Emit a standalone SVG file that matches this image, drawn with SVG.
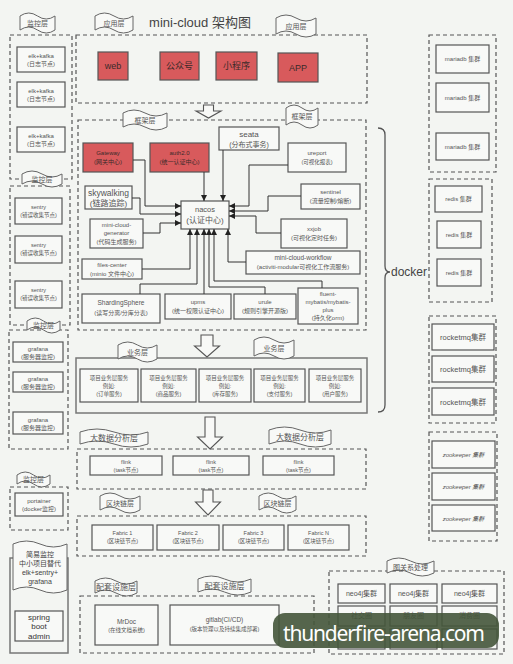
<svg xmlns="http://www.w3.org/2000/svg" width="513" height="664" viewBox="0 0 513 664">
<style>
.bg{fill:#f3f5f2}
.dash{fill:none;stroke:#555;stroke-width:1.2;stroke-dasharray:4 3}
.solid{fill:none;stroke:#777;stroke-width:1.5}
.box{fill:#f8f9f7;stroke:#555;stroke-width:1.2}
.red{fill:#d85a5c;stroke:#555;stroke-width:1.2}
.flag{fill:#f8f9f7;stroke:#666;stroke-width:1}
.bar{fill:#f8f9f7;stroke:#555;stroke-width:1.1}
text{font-family:"Liberation Sans","Noto Sans CJK SC",sans-serif;fill:#555;text-anchor:middle}
.s5{font-size:5.5px}.s6{font-size:6px}.s7{font-size:7px}.s8{font-size:8px}.s9{font-size:9px}
.rt{fill:#3a2a2a}
.conn{fill:none;stroke:#333;stroke-width:1;marker-end:url(#ah)}
</style>
<defs>
<marker id="ah" markerUnits="userSpaceOnUse" markerWidth="6" markerHeight="6" refX="6" refY="3" orient="auto"><path d="M0,0 L6,3 L0,6 z" fill="#222"/></marker>
</defs>
<rect class="bg" x="0" y="0" width="513" height="664"/>
<text x="200" y="27" style="font-size:13px;fill:#444">mini-cloud 架构图</text>

<!-- layer containers -->
<g id="containers">
<rect class="dash" x="10" y="35" width="62" height="144"/>
<rect class="dash" x="10" y="186" width="60" height="139"/>
<rect class="dash" x="9" y="330" width="59" height="119"/>
<rect class="dash" x="10" y="487" width="58" height="43"/>
<rect class="solid" x="10" y="558" width="58" height="95"/>
<rect class="dash" x="76" y="35" width="291" height="68"/>
<rect class="dash" x="78" y="120" width="288" height="210"/>
<rect class="solid" x="76" y="358" width="291" height="55"/>
<rect class="dash" x="77" y="449" width="289" height="40"/>
<rect class="dash" x="77" y="516" width="289" height="40"/>
<rect class="dash" x="80" y="596" width="234" height="57"/>
<rect class="dash" x="329" y="571" width="175" height="83"/>
<rect class="dash" x="429" y="35" width="67" height="137"/>
<rect class="dash" x="429" y="179" width="63" height="123"/>
<rect class="dash" x="429" y="316" width="67" height="107"/>
<rect class="dash" x="429" y="432" width="68" height="109"/>
<path d="M378,128 Q385,128 385,135 L385,266 Q385,272 390,272 Q385,272 385,278 L385,405 Q385,412 378,412" fill="none" stroke="#555" stroke-width="1.3"/>
<text x="409" y="276" style="font-size:12px;fill:#444">docker</text>
</g>

<!-- block arrows -->
<g id="flow-arrows" fill="#f8f9f7" stroke="#555" stroke-width="1.1">
<path d="M203.5,105 H213.5 V111 H221 L208.5,118 L196,111 H203.5 Z"/>
<path d="M201,335 H213 V346 H219.5 L207,357 L194.5,346 H201 Z"/>
<path d="M205,417 H215 V437 H222.5 L210,449 L197.5,437 H205 Z"/>
<path d="M203,490 H213 V502 H220.5 L208,515 L195.5,502 H203 Z"/>
</g>

<!-- monitoring column -->
<g id="elk1"><rect class="box" x="17" y="47" width="48" height="25"/><text class="s6" x="41" y="58">elk+kafka</text><text class="s6" x="41" y="66">(日志节点)</text></g>
<g id="elk2"><rect class="box" x="17" y="82" width="48" height="25"/><text class="s6" x="41" y="93">elk+kafka</text><text class="s6" x="41" y="101">(日志节点)</text></g>
<g id="elk3"><rect class="box" x="17" y="127" width="48" height="25"/><text class="s6" x="41" y="138">elk+kafka</text><text class="s6" x="41" y="146">(日志节点)</text></g>
<g id="sentry1"><rect class="box" x="15" y="198" width="47" height="26"/><text class="s5" x="38.5" y="209">sentry</text><text class="s5" x="38.5" y="217">(错误收集节点)</text></g>
<g id="sentry2"><rect class="box" x="15" y="236" width="47" height="27"/><text class="s5" x="38.5" y="247">sentry</text><text class="s5" x="38.5" y="255">(错误收集节点)</text></g>
<g id="sentry3"><rect class="box" x="15" y="281" width="47" height="27"/><text class="s5" x="38.5" y="292">sentry</text><text class="s5" x="38.5" y="300">(错误收集节点)</text></g>
<g id="grafana1"><rect class="box" x="13" y="342" width="50" height="20"/><text class="s6" x="38" y="351">grafana</text><text class="s6" x="38" y="358.5">(服务器监控)</text></g>
<g id="grafana2"><rect class="box" x="13" y="372" width="50" height="20"/><text class="s6" x="38" y="381">grafana</text><text class="s6" x="38" y="388.5">(服务器监控)</text></g>
<g id="grafana3"><rect class="box" x="13" y="412" width="50" height="22"/><text class="s6" x="38" y="422">grafana</text><text class="s6" x="38" y="430">(服务器监控)</text></g>
<g id="portainer"><rect class="box" x="15" y="493" width="48" height="23"/><text class="s6" x="39" y="503">portainer</text><text class="s6" x="39" y="511">(docker监控)</text></g>
<g id="sba"><rect class="box" x="15" y="611" width="48" height="30"/><text class="s8" x="39" y="620" style="fill:#333">spring</text><text class="s8" x="39" y="629" style="fill:#333">boot</text><text class="s8" x="39" y="638.5" style="fill:#333">admin</text></g>

<!-- application layer -->
<g id="web"><rect class="red" x="98" y="52" width="30" height="28"/><text class="s9 rt" x="113" y="69">web</text></g>
<g id="gzh"><rect class="red" x="160" y="52" width="39" height="28"/><text class="s9 rt" x="179.5" y="69">公众号</text></g>
<g id="xcx"><rect class="red" x="216" y="52" width="41" height="28"/><text class="s9 rt" x="236.5" y="69">小程序</text></g>
<g id="app"><rect class="red" x="278" y="53" width="40" height="29"/><text class="s9 rt" x="298" y="71">APP</text></g>

<!-- framework layer -->
<g id="gateway"><rect class="red" x="83" y="143" width="50" height="29"/><text class="s6 rt" x="108" y="155">Gateway</text><text class="s6 rt" x="108" y="164">(网关中心)</text></g>
<g id="auth"><rect class="red" x="150" y="143" width="59" height="29"/><text class="s6 rt" x="179.5" y="155">auth2.0</text><text class="s6 rt" x="179.5" y="164">(统一认证中心)</text></g>
<g id="seata"><rect class="box" x="219" y="127" width="60" height="23"/><text class="s8" x="249" y="137">seata</text><text class="s7" x="249" y="146.5">(分布式事务)</text></g>
<g id="ureport"><rect class="box" x="288" y="143" width="58" height="29"/><text class="s6" x="317" y="155">ureport</text><text class="s5" x="317" y="164">(可视化报表)</text></g>
<g id="skywalking"><rect class="box" x="85" y="186" width="47" height="23"/><text x="108.5" y="196" style="font-size:8.5px">skywalking</text><text class="s8" x="108.5" y="205.5">(链路追踪)</text></g>
<g id="generator"><rect class="box" x="90" y="219" width="53" height="29"/><text class="s6" x="116.5" y="227">mini-cloud-</text><text class="s6" x="116.5" y="235">generator</text><text class="s6" x="116.5" y="243.5">(代码生成服务)</text></g>
<g id="files"><rect class="box" x="82" y="259" width="60" height="20"/><text class="s6" x="112" y="267">files-center</text><text class="s6" x="112" y="275.5">(minio 文件中心)</text></g>
<g id="sharding"><rect class="box" x="82" y="294" width="78" height="29"/><text x="121" y="305" style="font-size:6.5px">ShardingSphere</text><text class="s6" x="121" y="315">(读写分离/分库分表)</text></g>
<g id="upms"><rect class="box" x="165" y="294" width="66" height="25"/><text class="s6" x="198" y="304">upms</text><text class="s6" x="198" y="313">(统一权限认证中心)</text></g>
<g id="urule"><rect class="box" x="234" y="294" width="62" height="25"/><text class="s6" x="265" y="304">urule</text><text class="s6" x="265" y="313">(规则引擎开源版)</text></g>
<g id="fluent"><rect class="box" x="298" y="288" width="60" height="36"/><text class="s6" x="328" y="296">fluent-</text><text class="s6" x="328" y="304">mybatis/mybatis-</text><text class="s6" x="328" y="312">plus</text><text class="s6" x="328" y="320">(持久化orm)</text></g>
<g id="nacos"><rect class="box" x="181" y="201" width="48" height="28"/><text x="205" y="212" style="font-size:7.5px">nacos</text><text class="s8" x="205" y="223">(认证中心)</text></g>
<g id="sentinel"><rect class="box" x="301" y="184" width="59" height="25"/><text class="s6" x="330.5" y="194">sentinel</text><text class="s6" x="330.5" y="203">(流量控制/熔断)</text></g>
<g id="xxjob"><rect class="box" x="281" y="219" width="66" height="29"/><text class="s6" x="314" y="231">xxjob</text><text class="s6" x="314" y="240">(可视化定时任务)</text></g>
<g id="workflow"><rect class="box" x="246" y="251" width="114" height="23"/><text x="303" y="260" style="font-size:6.5px">mini-cloud-workflow</text><text class="s6" x="303" y="269">(activiti-modular可视化工作流服务)</text></g>

<g id="connectors">
<path class="conn" d="M133,160 H145 V206 H181"/>
<path class="conn" d="M132,198 H140 V214 H181"/>
<path class="conn" d="M143,233 H160 V223 H181"/>
<path class="conn" d="M204,172 V201"/>
<path class="conn" d="M223,150 V201"/>
<path class="conn" d="M288,165 H249 V206 H229"/>
<path class="conn" d="M301,196 H268 V211 H229"/>
<path class="conn" d="M281,233 H256 V216 H229"/>
<path class="conn" d="M142,269 H190 V229"/>
<path class="conn" d="M140,294 V284 H197 V229"/>
<path class="conn" d="M204,294 V229"/>
<path class="conn" d="M265,294 V287 H209 V229"/>
<path class="conn" d="M322,288 V281 H214 V229"/>
<path class="conn" d="M246,262 H228 V229"/>
</g>

<!-- business layer -->
<g id="biz1"><rect class="box" x="80" y="369" width="58" height="33"/><text class="s5" x="109" y="380">项目业务层服务</text><text class="s5" x="109" y="388">例如:</text><text class="s5" x="109" y="396">(订单服务)</text></g>
<g id="biz2"><rect class="box" x="141" y="369" width="55" height="33"/><text class="s5" x="168.5" y="380">项目业务层服务</text><text class="s5" x="168.5" y="388">例如:</text><text class="s5" x="168.5" y="396">(商品服务)</text></g>
<g id="biz3"><rect class="box" x="199" y="369" width="52" height="33"/><text class="s5" x="225" y="380">项目业务层服务</text><text class="s5" x="225" y="388">例如:</text><text class="s5" x="225" y="396">(库存服务)</text></g>
<g id="biz4"><rect class="box" x="254" y="369" width="51" height="33"/><text class="s5" x="279.5" y="380">项目业务层服务</text><text class="s5" x="279.5" y="388">例如:</text><text class="s5" x="279.5" y="396">(支付服务)</text></g>
<g id="biz5"><rect class="box" x="309" y="369" width="52" height="33"/><text class="s5" x="335" y="380">项目业务层服务</text><text class="s5" x="335" y="388">例如:</text><text class="s5" x="335" y="396">(用户服务)</text></g>

<!-- big data -->
<g id="flink1"><rect class="box" x="90" y="456" width="72" height="19"/><text class="s5" x="126" y="464">flink</text><text class="s5" x="126" y="471.5">(task节点)</text></g>
<g id="flink2"><rect class="box" x="173" y="456" width="76" height="19"/><text class="s5" x="211" y="464">flink</text><text class="s5" x="211" y="471.5">(task节点)</text></g>
<g id="flink3"><rect class="box" x="263" y="456" width="71" height="19"/><text class="s5" x="298.5" y="464">flink</text><text class="s5" x="298.5" y="471.5">(task节点)</text></g>

<!-- blockchain -->
<g id="fabric1"><rect class="box" x="92" y="525" width="61" height="25"/><text class="s5" x="122.5" y="535">Fabric 1</text><text class="s5" x="122.5" y="543">(区块链节点)</text></g>
<g id="fabric2"><rect class="box" x="157" y="525" width="62" height="25"/><text class="s5" x="188" y="535">Fabric 2</text><text class="s5" x="188" y="543">(区块链节点)</text></g>
<g id="fabric3"><rect class="box" x="223" y="525" width="61" height="25"/><text class="s5" x="253.5" y="535">Fabric 3</text><text class="s5" x="253.5" y="543">(区块链节点)</text></g>
<g id="fabricN"><rect class="box" x="288" y="525" width="61" height="25"/><text class="s5" x="318.5" y="535">Fabric N</text><text class="s5" x="318.5" y="543">(区块链节点)</text></g>

<!-- facilities -->
<g id="mrdoc"><rect class="box" x="95" y="605" width="63" height="40"/><text x="126.5" y="624" style="font-size:6.5px">MrDoc</text><text class="s5" x="126.5" y="632">(在线文档系统)</text></g>
<g id="gitlab"><rect class="box" x="170" y="605" width="109" height="40"/><text x="224.5" y="622" style="font-size:6.5px">gitlab(CI/CD)</text><text class="s5" x="224.5" y="631">(版本管理以及持续集成部署)</text></g>

<!-- graph -->
<g id="neo1"><rect class="box" x="338" y="584" width="47" height="19"/><text class="s7" x="361.5" y="596">neo4j集群</text></g>
<g id="neo2"><rect class="box" x="390" y="584" width="47" height="19"/><text class="s7" x="413.5" y="596">neo4j集群</text></g>
<g id="neo3"><rect class="box" x="442" y="584" width="55" height="19"/><text class="s7" x="469.5" y="596">neo4j集群</text></g>
<g id="g21"><rect class="box" x="338" y="606" width="47" height="20"/><text class="s7" x="361.5" y="618">社交圈</text></g>
<g id="g22"><rect class="box" x="390" y="606" width="47" height="20"/><text class="s7" x="413.5" y="618">朋友圈</text></g>
<g id="g23"><rect class="box" x="442" y="606" width="55" height="20"/><text class="s7" x="469.5" y="618">消费圈</text></g>
<g id="g31"><rect class="box" x="338" y="629" width="47" height="20"/></g>
<g id="g32"><rect class="box" x="390" y="629" width="47" height="20"/></g>
<g id="g33"><rect class="box" x="442" y="629" width="55" height="20"/></g>

<!-- right column -->
<g id="mariadb1"><rect class="box" x="436" y="45" width="53" height="28"/><text class="s6" x="462.5" y="61">mariadb 集群</text></g>
<g id="mariadb2"><rect class="box" x="436" y="83" width="53" height="29"/><text class="s6" x="462.5" y="99.5">mariadb 集群</text></g>
<g id="mariadb3"><rect class="box" x="436" y="133" width="53" height="27"/><text class="s6" x="462.5" y="148.5">mariadb 集群</text></g>
<g id="redis1"><rect class="box" x="435" y="186" width="47" height="26"/><text class="s6" x="458.5" y="201">redis 集群</text></g>
<g id="redis2"><rect class="box" x="437" y="221" width="44" height="27"/><text class="s6" x="459" y="236.5">redis 集群</text></g>
<g id="redis3"><rect class="box" x="437" y="259" width="44" height="27"/><text class="s6" x="459" y="274.5">redis 集群</text></g>
<g id="mq1"><rect class="box" x="432" y="324" width="62" height="26"/><text x="463" y="340" style="font-size:7.5px">rocketmq集群</text></g>
<g id="mq2"><rect class="box" x="432" y="356" width="62" height="26"/><text x="463" y="372" style="font-size:7.5px">rocketmq集群</text></g>
<g id="mq3"><rect class="box" x="432" y="388" width="62" height="27"/><text x="463" y="404.5" style="font-size:7.5px">rocketmq集群</text></g>
<g id="zk1"><rect class="box" x="432" y="441" width="63" height="27"/><text class="s6" x="463.5" y="457" font-style="italic">zookeeper 集群</text></g>
<g id="zk2"><rect class="box" x="432" y="473" width="63" height="27"/><text class="s6" x="463.5" y="489" font-style="italic">zookeeper 集群</text></g>
<g id="zk3"><rect class="box" x="432" y="505" width="63" height="26"/><text class="s6" x="463.5" y="520.5" font-style="italic">zookeeper 集群</text></g>

<!-- banners -->
<g id="banners">
<path class="flag" d="M20,16 Q28.75,10 37.5,16 T55,16 L55,30 Q46.25,36 37.5,30 T20,30 Z"/><text class="s7" x="37.5" y="26">监控层</text>
<path class="flag" d="M22,174 Q32,168 42,174 T62,174 L62,184 Q52,190 42,184 T22,184 Z"/><text class="s7" x="42" y="182">监控层</text>
<path class="flag" d="M27,321 Q35.25,315 43.5,321 T60,321 L60,330 Q51.75,336 43.5,330 T27,330 Z"/><text class="s7" x="43.5" y="328">监控层</text>
<path class="flag" d="M17,475 Q25.25,469 33.5,475 T50,475 L50,484 Q41.75,490 33.5,484 T17,484 Z"/><text class="s7" x="33.5" y="482">监控层</text>
<path class="flag" d="M13,544 Q26.5,538 40,544 T67,544 L67,590 Q53.5,596 40,590 T13,590 Z"/>
<text class="s7" x="40" y="557" style="fill:#444">简易监控</text><text class="s7" x="40" y="566" style="fill:#444">中小项目替代</text><text class="s7" x="40" y="575" style="fill:#444">elk+sentry+</text><text class="s7" x="40" y="584" style="fill:#444">grafana</text>
<path class="flag" d="M95,16 Q104.5,10 114,16 T133,16 L133,30 Q123.5,36 114,30 T95,30 Z"/><text class="s7" x="114" y="26">应用层</text>
<path class="flag" d="M276,18 Q286,12 296,18 T316,18 L316,34 Q306,40 296,34 T276,34 Z"/><text class="s7" x="296" y="29">应用层</text>
<path class="flag" d="M123,113 Q134,107 145,113 T167,113 L167,127 Q156,133 145,127 T123,127 Z"/><text class="s7" x="145" y="123">框架层</text>
<path class="flag" d="M286,108 Q294,102 302,108 T318,108 L318,125 Q310,131 302,125 T286,125 Z"/><text class="s7" x="302" y="119">框架层</text>
<path class="flag" d="M118,345 Q127.75,339 137.5,345 T157,345 L157,359 Q147.25,365 137.5,359 T118,359 Z"/><text class="s7" x="137.5" y="355">业务层</text>
<path class="flag" d="M254,340 Q264,334 274,340 T294,340 L294,356 Q284,362 274,356 T254,356 Z"/><text class="s7" x="274" y="351">业务层</text>
<path class="flag" d="M80,432 Q97,426 114,432 T148,432 L148,444 Q131,450 114,444 T80,444 Z"/><text class="s8" x="114" y="441">大数据分析层</text>
<path class="flag" d="M269,430 Q284.5,424 300,430 T331,430 L331,444 Q315.5,450 300,444 T269,444 Z"/><text class="s8" x="300" y="440">大数据分析层</text>
<path class="flag" d="M100,496 Q110,490 120,496 T140,496 L140,510 Q130,516 120,510 T100,510 Z"/><text class="s7" x="120" y="506">区块链层</text>
<path class="flag" d="M259,496 Q268.25,490 277.5,496 T296,496 L296,510 Q286.75,516 277.5,510 T259,510 Z"/><text class="s7" x="277.5" y="506">区块链层</text>
<path class="flag" d="M95,581 Q105.5,575 116,581 T137,581 L137,593 Q126.5,599 116,593 T95,593 Z"/><text class="s8" x="116" y="590">配套设施层</text>
<path class="flag" d="M198,579 Q211.25,573 224.5,579 T251,579 L251,592 Q237.75,598 224.5,592 T198,592 Z"/><text class="s8" x="224.5" y="589">配套设施层</text>
<path class="flag" d="M387,561 Q398.75,555 410.5,561 T434,561 L434,573 Q422.25,579 410.5,573 T387,573 Z"/><text class="s7" x="410.5" y="570">图关系处理</text>
</g>

<!-- watermark -->
<g id="watermark">
<rect x="273" y="613" width="226" height="35" rx="12" fill="#44553a" opacity="0.9"/>
<text x="283" y="641" textLength="202" style="font-family:'Noto Sans','Open Sans',sans-serif;font-size:21px;fill:#ffffff;text-anchor:start">thunderfire-arena.com</text>
</g>
</svg>
